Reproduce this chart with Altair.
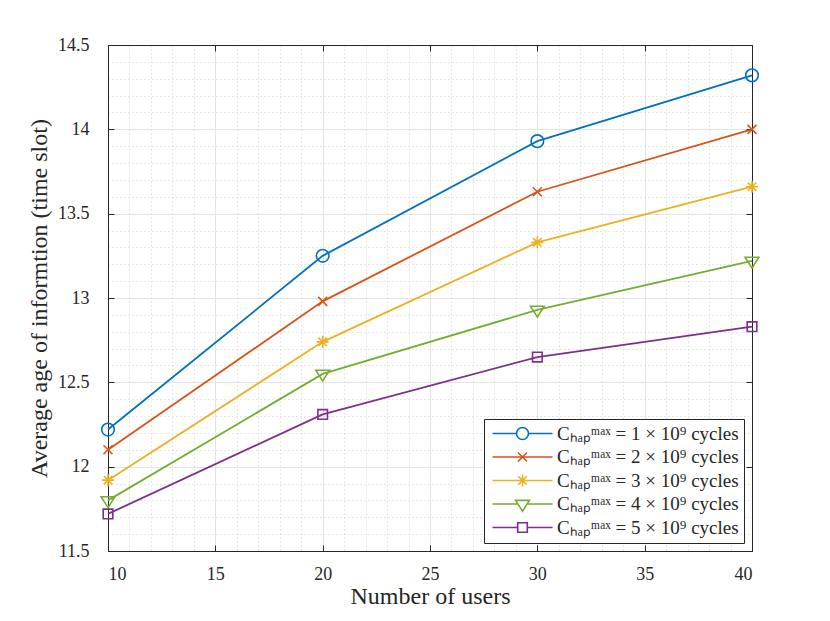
import altair as alt
import pandas as pd
import numpy as np

users = [10, 20, 30, 40]
series = [
    "Cₕₐₚᵐᵃˣ = 1 × 10⁹ cycles",
    "Cₕₐₚᵐᵃˣ = 2 × 10⁹ cycles",
    "Cₕₐₚᵐᵃˣ = 3 × 10⁹ cycles",
    "Cₕₐₚᵐᵃˣ = 4 × 10⁹ cycles",
    "Cₕₐₚᵐᵃˣ = 5 × 10⁹ cycles",
]
aoi_1 = [12.22, 13.25, 13.93, 14.32]
aoi_2 = [12.10, 12.98, 13.63, 14.00]
aoi_3 = [11.92, 12.74, 13.33, 13.66]
aoi_4 = [11.80, 12.55, 12.93, 13.22]
aoi_5 = [11.72, 12.31, 12.65, 12.83]
colors = ["#0072BD", "#D95319", "#EDB120", "#77AC30", "#7E2F8E"]

x_ticks = [10, 15, 20, 25, 30, 35, 40]
y_ticks = [11.5, 12, 12.5, 13, 13.5, 14, 14.5]
x_minor = [v for v in range(10, 41) if v % 5 != 0]
y_minor = [round(v, 1) for v in np.arange(11.6, 14.5, 0.1) if round(v * 10) % 5 != 0]

marker_paths = [
    "M-1.05,0A1.05,1.05 0 1,0 1.05,0A1.05,1.05 0 1,0 -1.05,0",
    "M-0.75,-0.75L0.75,0.75M-0.75,0.75L0.75,-0.75",
    "M-1,0H1M0,-1V1M-0.7,-0.7L0.7,0.7M-0.7,0.7L0.7,-0.7",
    "M-1.15,-0.6L1.15,-0.6L0,1.2Z",
    "M-0.8,-0.8H0.8V0.8H-0.8Z",
]
legend_paths = [
    "M-1,0H3M5,0H9M3,0A1,1 0 1,0 5,0A1,1 0 1,0 3,0",
    "M-1,0H9M3.25,-0.75L4.75,0.75M3.25,0.75L4.75,-0.75",
    "M-1,0H9M4,-1V1M3.3,-0.7L4.7,0.7M3.3,0.7L4.7,-0.7",
    "M-1,0H3.2M4.8,0H9M2.85,-0.6L5.15,-0.6L4,1.2Z",
    "M-1,0H3.2M4.8,0H9M3.2,-0.8H4.8V0.8H3.2Z",
]

rows = []
for name, vals in zip(series, [aoi_1, aoi_2, aoi_3, aoi_4, aoi_5]):
    for u, v in zip(users, vals):
        rows.append({"users": u, "aoi": v, "series": name})
df = pd.DataFrame(rows)

FONT = "Liberation Serif"
TXT = "#262626"
xs = alt.Scale(domain=[10, 40], nice=False, zero=False)
ys = alt.Scale(domain=[11.5, 14.5], nice=False, zero=False)
cs = alt.Scale(domain=series, range=colors)

leg = alt.Legend(
    orient="bottom-right", offset=8, title=None, strokeColor="#262626", fillColor="white",
    padding=5, labelFont=FONT, labelFontSize=19, labelColor=TXT, labelOffset=49,
    symbolSize=144, symbolStrokeWidth=1.6, symbolOpacity=1, symbolFillColor="transparent",
    rowPadding=3.5, cornerRadius=0, labelLimit=400,
)
color_enc = alt.Color("series:N", scale=cs, legend=leg)

base = alt.Chart(df)
inward = {"expr": "-6"}

# major grid + labelled axes (bottom/left)
lines = base.mark_line(strokeWidth=1.8).encode(
    x=alt.X("users:Q", scale=xs, axis=alt.Axis(
        values=x_ticks, grid=True, gridColor="#e4e4e4", gridWidth=1,
        domainColor=TXT, domainWidth=1, ticks=True, tickSize=inward, tickColor=TXT,
        labelFont=FONT, labelFontSize=18, labelColor=TXT, labelPadding=20,
        title="Number of users", titleFont=FONT, titleFontSize=24,
        titleFontWeight="normal", titleColor=TXT, titlePadding=1, orient="bottom")),
    y=alt.Y("aoi:Q", scale=ys, axis=alt.Axis(
        values=y_ticks, format=".1~f", grid=True, gridColor="#e4e4e4", gridWidth=1,
        domainColor=TXT, domainWidth=1, ticks=True, tickSize=inward, tickColor=TXT,
        labelFont=FONT, labelFontSize=18, labelColor=TXT, labelPadding=25,
        title="Average age of informtion (time slot)", titleFont=FONT, titleFontSize=24,
        titleFontWeight="normal", titleColor=TXT, titlePadding=6, orient="left")),
    color=color_enc,
    detail="series:N",
)

# box on top/right with inward ticks
box = base.mark_point(opacity=0).encode(
    x=alt.X("users:Q", scale=xs, axis=alt.Axis(
        values=x_ticks, grid=False, domainColor=TXT, domainWidth=1, ticks=True,
        tickSize=inward, tickColor=TXT, labels=False, title=None, orient="top")),
    y=alt.Y("aoi:Q", scale=ys, axis=alt.Axis(
        values=y_ticks, grid=False, domainColor=TXT, domainWidth=1, ticks=True,
        tickSize=inward, tickColor=TXT, labels=False, title=None, orient="right")),
)

# minor dotted grid
minor = base.mark_point(opacity=0).encode(
    x=alt.X("users:Q", scale=xs, axis=alt.Axis(
        values=x_minor, grid=True, gridColor="#d0d0d0", gridDash=[1, 3], gridWidth=1,
        domain=False, ticks=False, labels=False, title=None, orient="bottom")),
    y=alt.Y("aoi:Q", scale=ys, axis=alt.Axis(
        values=y_minor, grid=True, gridColor="#d0d0d0", gridDash=[1, 3], gridWidth=1,
        domain=False, ticks=False, labels=False, title=None, orient="left")),
)

marker_layers = []
for name, path in zip(series, marker_paths):
    marker_layers.append(
        base.transform_filter(alt.datum.series == name)
        .mark_point(shape=path, filled=False, size=144, strokeWidth=1.6, opacity=1)
        .encode(
            x=alt.X("users:Q", scale=xs, axis=None),
            y=alt.Y("aoi:Q", scale=ys, axis=None),
            color=color_enc,
        )
    )

legend_layer = base.mark_point(filled=False, size=144, strokeWidth=1.6, opacity=0).encode(
    x=alt.X("users:Q", scale=xs, axis=None),
    y=alt.Y("aoi:Q", scale=ys, axis=None),
    color=color_enc,
    shape=alt.Shape("series:N", scale=alt.Scale(domain=series, range=legend_paths), legend=leg),
)

chart = alt.layer(minor, lines, box, *marker_layers, legend_layer).resolve_axis(
    x="independent", y="independent"
).properties(
    width=644, height=506,
    autosize=alt.AutoSizeParams(type="none"),
    padding={"left": 100, "top": 37, "right": 62, "bottom": 62},
).configure_view(stroke=None).configure(background="white")

chart.save("out.html", embed_options={"renderer": "svg", "actions": False})
